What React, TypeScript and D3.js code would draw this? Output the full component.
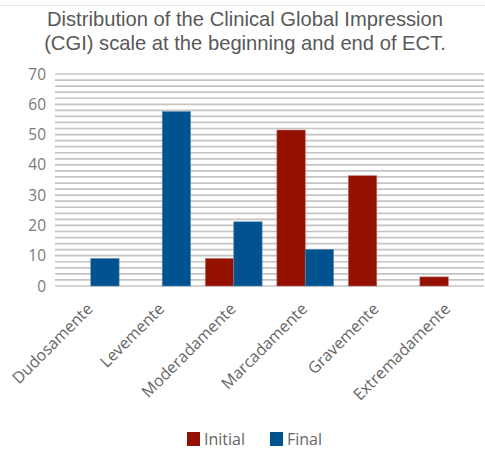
import React from "react";
import * as d3 from "d3";

const categories = ["Dudosamente", "Levemente", "Moderadamente", "Marcadamente", "Gravemente", "Extremadamente"];
const seriesNames = ["Initial", "Final"];
const initialValues = [0, 0, 9.1, 51.5, 36.4, 3.0];
const finalValues = [9.1, 57.6, 21.2, 12.1, 0, 0];
const yTicks = [0, 10, 20, 30, 40, 50, 60, 70];
const colors = ["#941100", "#00538F"];

export default function App() {
  const W = 485, H = 450;
  const left = 55, right = 484, top = 74, bottom = 286;
  const x = d3.scaleBand<string>().domain(categories).range([left, right]).paddingInner(0).paddingOuter(0);
  const inner = d3.scaleBand<string>().domain(seriesNames).range([0, x.bandwidth()]).paddingInner(0).paddingOuter(0.5 * (24.5 / 47));
  const y = d3.scaleLinear().domain([0, 70]).range([bottom, top]);
  const grid = d3.range(0, 72, 2);
  const series = [initialValues, finalValues];
  return (
    <svg width={W} height={H} style={{ position: "absolute", left: 0, top: 0, background: "#fff" }}>
      <line x1={0} x2={W} y1={5.5} y2={5.5} stroke="#e6e6e6" strokeWidth={1} />
      <text x={245} y={26} textAnchor="middle" fontFamily="Liberation Sans, Arial" fontSize={20.2} fill="#595959">
        Distribution of the Clinical Global Impression
      </text>
      <text x={245} y={50} textAnchor="middle" fontFamily="Liberation Sans, Arial" fontSize={20.2} fill="#595959">
        (CGI) scale at the beginning and end of ECT.
      </text>
      {grid.map((g) => (
        <line key={g} x1={left} x2={right} y1={y(g)} y2={y(g)} stroke="#c4c4c4" strokeWidth={1.7} />
      ))}
      {yTicks.map((t) => (
        <text key={t} x={46} y={y(t) + 5.5} textAnchor="end" fontFamily="Open Sans, sans-serif" fontSize={15.5} fill="#7a7a7a">
          {t}
        </text>
      ))}
      {series.map((vals, si) =>
        vals.map((v, i) =>
          v > 0 ? (
            <rect
              key={si + "-" + i}
              x={(x(categories[i]) as number) + (inner(seriesNames[si]) as number)}
              y={y(v)}
              width={inner.bandwidth()}
              height={y(0) - y(v)}
              fill={colors[si]}
              stroke={si === 0 ? "#b86a60" : "#5b8ab5"}
              strokeWidth={0.6}
            />
          ) : null
        )
      )}
      {categories.map((c) => {
        const cx = (x(c) as number) + x.bandwidth() / 2 + 3;
        const cy = 310;
        return (
          <text key={c} x={cx} y={cy} transform={`rotate(-45 ${cx} ${cy})`} textAnchor="end" fontFamily="Open Sans, sans-serif" fontSize={16} fill="#666">
            {c}
          </text>
        );
      })}
      {seriesNames.map((s, i) => {
        const lx = i === 0 ? 187 : 270;
        return (
          <g key={s}>
            <rect x={lx} y={432} width={13} height={14} fill={colors[i]} />
            <text x={lx + 17} y={445} fontFamily="Open Sans, sans-serif" fontSize={16} fill="#666">
              {s}
            </text>
          </g>
        );
      })}
    </svg>
  );
}
